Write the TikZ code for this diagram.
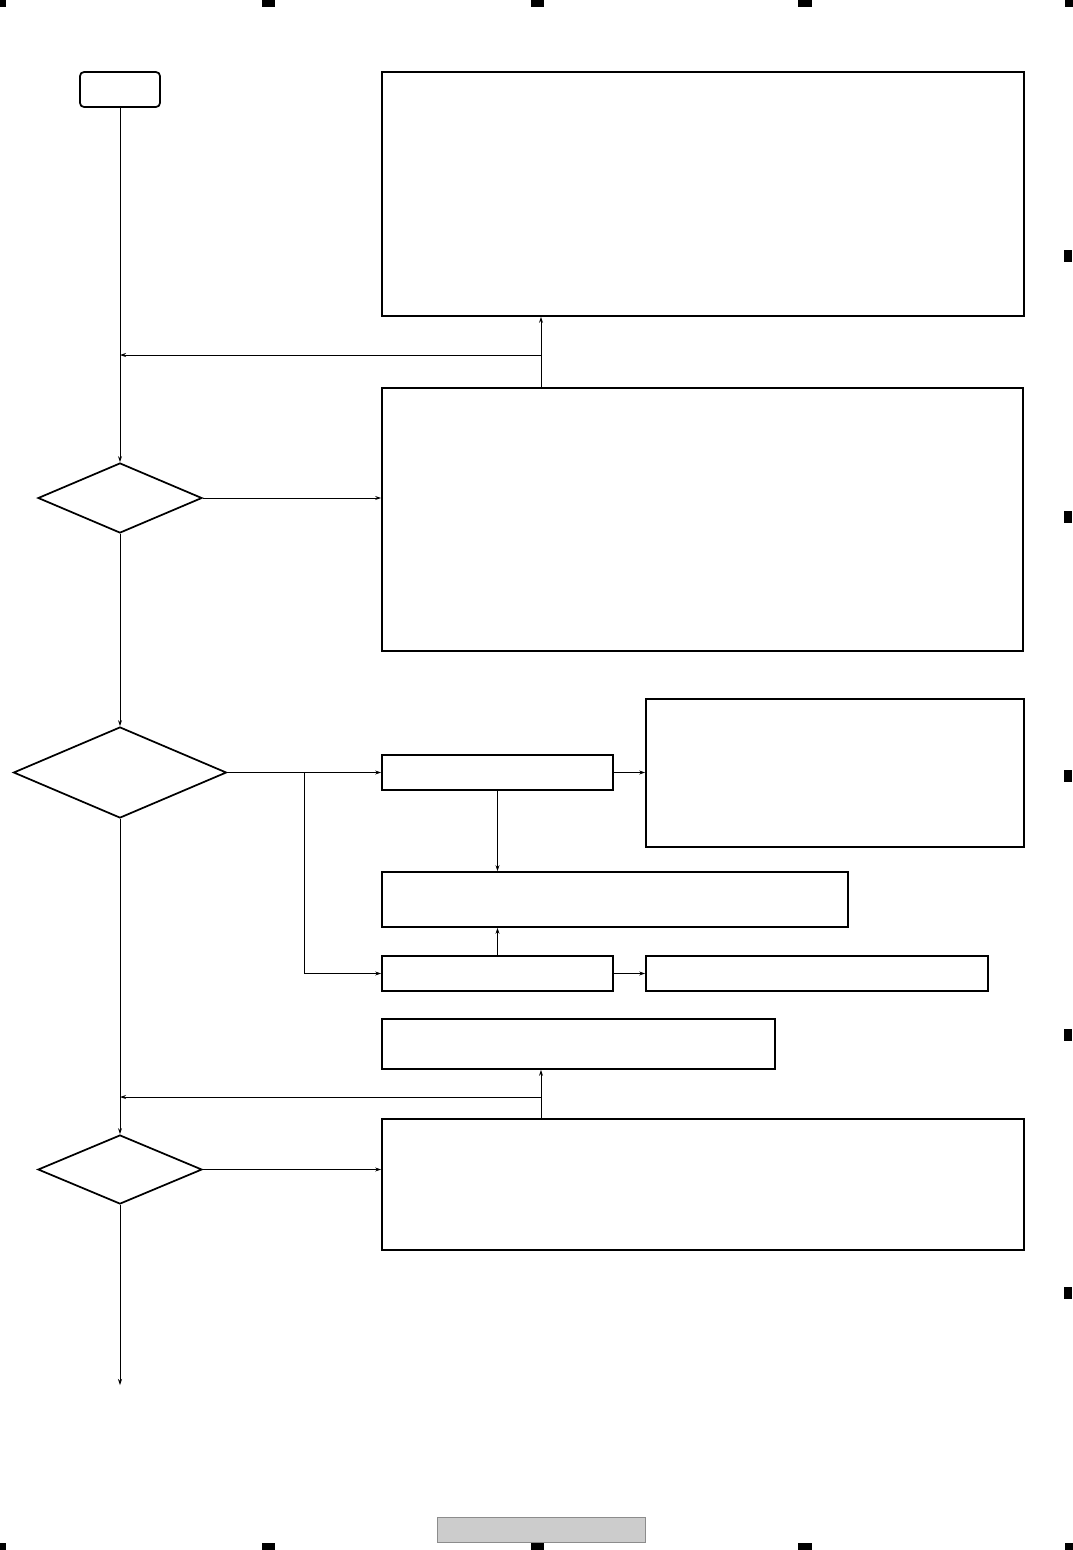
\documentclass[tikz,border=0pt]{standalone}
\usetikzlibrary{shapes.geometric,arrows.meta}
\begin{document}
\begin{tikzpicture}[x=0.75pt,y=-0.75pt,
  box/.style={draw,line width=1.3pt,inner sep=0pt,rectangle},
  startbox/.style={box,rounded corners=3pt},
  decision/.style={draw,line width=1.3pt,inner sep=0pt,diamond},
  conn/.style={line width=0.6pt},
  arr/.style={conn,-{Stealth[length=4.5pt,width=3pt]}},
  mark/.style={fill=black,draw=none}]
\useasboundingbox (0,0) rectangle (1073,1550);
% page markers
\foreach \a/\b in {0/6,262/275,531/544,798/812,1065/1073}{
  \fill (\a,0) rectangle (\b,7);
  \fill (\a,1543) rectangle (\b,1550);
}
\foreach \c in {256,517,776,1035,1293}{
  \fill (1064,\c-6) rectangle (1072,\c+6);
}
\filldraw[fill=black!20,draw=black!45,line width=0.6pt] (437,1517) rectangle (645,1542);
% nodes
\node[startbox,minimum width=60pt,minimum height=26.25pt] (start) at (120,89.5) {};
\node[box,minimum width=481.5pt,minimum height=183pt] (A) at (703,194) {};
\node[box,minimum width=480.75pt,minimum height=197.25pt] (B) at (702.5,519.5) {};
\node[box,minimum width=173.25pt,minimum height=26.25pt] (C) at (497.5,772.5) {};
\node[box,minimum width=283.5pt,minimum height=111pt] (D) at (835,773) {};
\node[box,minimum width=349.5pt,minimum height=41.25pt] (F) at (615,899.5) {};
\node[box,minimum width=173.25pt,minimum height=26.25pt] (E) at (497.5,973.5) {};
\node[box,minimum width=256.5pt,minimum height=26.25pt] (G) at (817,973.5) {};
\node[box,minimum width=294.75pt,minimum height=37.5pt] (H) at (578.5,1044) {};
\node[box,minimum width=481.5pt,minimum height=98.25pt] (I) at (703,1184.5) {};
\node[decision,minimum width=123pt,minimum height=52.5pt] (d1) at (120,498) {};
\node[decision,minimum width=159.75pt,minimum height=68.25pt] (d2) at (120,772.5) {};
\node[decision,minimum width=123pt,minimum height=51.75pt] (d3) at (120,1169.5) {};
\coordinate (j1) at (541,355);
\coordinate (j2) at (541,1097);
\coordinate (br) at (304,772.5);
\coordinate (fin) at (120,1385);
% connectors
\draw[arr] (start.south) -- (d1.north);
\draw[arr] (d1.south) -- (d2.north);
\draw[arr] (d2.south) -- (d3.north);
\draw[arr] (d3.south) -- (fin);
\draw[arr] (d1.east) -- (d1.east -| B.west);
\draw[arr] (B.north -| j1) -- (A.south -| j1);
\draw[arr] (j1) -- (j1 -| start.south);
\draw[arr] (d2.east) -- (d2.east -| C.west);
\draw[arr] (br) |- (E.west);
\draw[arr] (C.east) -- (C.east -| D.west);
\draw[arr] (C.south) -- (C.south |- F.north);
\draw[arr] (E.north) -- (E.north |- F.south);
\draw[arr] (E.east) -- (G.west);
\draw[arr] (I.north -| j2) -- (H.south -| j2);
\draw[arr] (j2) -- (j2 -| start.south);
\draw[arr] (d3.east) -- (d3.east -| I.west);
\end{tikzpicture}
\end{document}
